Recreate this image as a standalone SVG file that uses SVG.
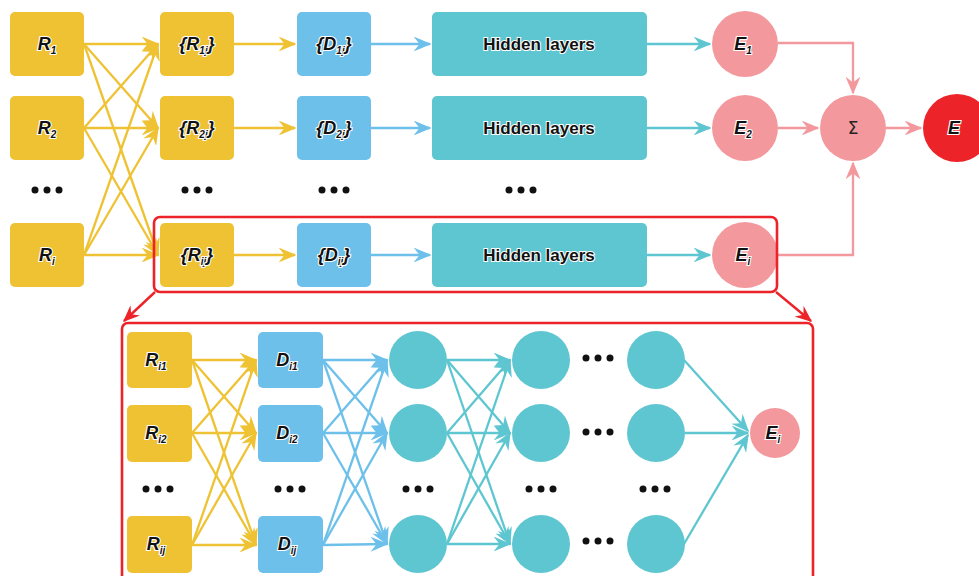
<svg xmlns="http://www.w3.org/2000/svg" width="979" height="576" viewBox="0 0 979 576">
  <style>
    .y { fill: #eec232; }
    .b { fill: #6dc0ea; }
    .t { fill: #5ec6d0; }
    .p { fill: #f3999d; }
    .r { fill: #ec2328; }
    .lab { font-family: "Liberation Sans", Arial, sans-serif; font-weight: bold; font-style: italic; font-size: 18px; fill: #111; stroke: #fff; stroke-width: 2.2px; paint-order: stroke; text-anchor: middle; }
    .lab tspan.s { font-size: 10px; }
    .hid { font-family: "Liberation Sans", Arial, sans-serif; font-weight: bold; font-size: 17px; fill: #111; stroke: #fff; stroke-width: 2px; paint-order: stroke; text-anchor: middle; }
    .sig { font-family: "DejaVu Sans", sans-serif; font-size: 17px; fill: #222; text-anchor: middle; }
    .cy { stroke: #eec232; stroke-width: 2.3; fill: none; marker-end: url(#ay); }
    .cb { stroke: #6dc0ea; stroke-width: 2.3; fill: none; marker-end: url(#ab); }
    .ct { stroke: #5ec6d0; stroke-width: 2.3; fill: none; marker-end: url(#at); }
    .cp { stroke: #f3999d; stroke-width: 2.3; fill: none; marker-end: url(#ap); }
    .cr { stroke: #ec2328; stroke-width: 2.4; fill: none; marker-end: url(#ar); }
    .frame { stroke: #ec2328; stroke-width: 2.6; fill: none; }
    .dot { fill: #111; }
  </style>
  <defs>
    <marker id="ay" viewBox="0 0 12 10" refX="11" refY="5" markerWidth="8" markerHeight="6.5" markerUnits="strokeWidth" orient="auto"><path d="M0,0 L12,5 L0,10 L4,5 z" fill="#eec232"/></marker>
    <marker id="ab" viewBox="0 0 12 10" refX="11" refY="5" markerWidth="8" markerHeight="6.5" markerUnits="strokeWidth" orient="auto"><path d="M0,0 L12,5 L0,10 L4,5 z" fill="#6dc0ea"/></marker>
    <marker id="at" viewBox="0 0 12 10" refX="11" refY="5" markerWidth="8" markerHeight="6.5" markerUnits="strokeWidth" orient="auto"><path d="M0,0 L12,5 L0,10 L4,5 z" fill="#5ec6d0"/></marker>
    <marker id="ap" viewBox="0 0 12 10" refX="11" refY="5" markerWidth="8" markerHeight="6.5" markerUnits="strokeWidth" orient="auto"><path d="M0,0 L12,5 L0,10 L4,5 z" fill="#f3999d"/></marker>
    <marker id="ar" viewBox="0 0 12 10" refX="11" refY="5" markerWidth="7" markerHeight="6" markerUnits="strokeWidth" orient="auto"><path d="M0,0 L12,5 L0,10 L4,5 z" fill="#ec2328"/></marker>
    <g id="dots"><circle cx="-12" cy="0" r="3.5"/><circle cx="0" cy="0" r="3.5"/><circle cx="12" cy="0" r="3.5"/></g>
  </defs>

  <!-- connectors -->
  <g id="connectors">
    <!-- R -> {R} full mesh -->
    <path class="cy" d="M84,44 L158,44"/>
    <path class="cy" d="M84,44 L158,128"/>
    <path class="cy" d="M84,44 L158,255"/>
    <path class="cy" d="M84,128 L158,44"/>
    <path class="cy" d="M84,128 L158,128"/>
    <path class="cy" d="M84,128 L158,255"/>
    <path class="cy" d="M84,255 L158,44"/>
    <path class="cy" d="M84,255 L158,128"/>
    <path class="cy" d="M84,255 L158,255"/>
    <!-- {R} -> {D} -->
    <path class="cy" d="M234,44 L295,44"/>
    <path class="cy" d="M234,128 L295,128"/>
    <path class="cy" d="M234,255 L295,255"/>
    <!-- {D} -> hidden layers -->
    <path class="cb" d="M371,44 L430,44"/>
    <path class="cb" d="M371,128 L430,128"/>
    <path class="cb" d="M371,255 L430,255"/>
    <!-- hidden layers -> E -->
    <path class="ct" d="M647,44 L710,44"/>
    <path class="ct" d="M647,128 L710,128"/>
    <path class="ct" d="M647,255 L710,255"/>
    <!-- E -> sum -> E -->
    <path class="cp" d="M778,43 L853,43 L853,93"/>
    <path class="cp" d="M778,128 L818,128"/>
    <path class="cp" d="M778,255 L853,255 L853,163"/>
    <path class="cp" d="M886,128 L921,128"/>
    <!-- zoom-out arrows -->
    <path class="cr" d="M155,292 L124,321"/>
    <path class="cr" d="M776,292 L811,321"/>

    <!-- lower: R_i -> D_i -->
    <path class="cy" d="M192,360 L256,360"/>
    <path class="cy" d="M192,360 L256,433"/>
    <path class="cy" d="M192,360 L256,545"/>
    <path class="cy" d="M192,433 L256,360"/>
    <path class="cy" d="M192,433 L256,433"/>
    <path class="cy" d="M192,433 L256,545"/>
    <path class="cy" d="M192,545 L256,360"/>
    <path class="cy" d="M192,545 L256,433"/>
    <path class="cy" d="M192,545 L256,545"/>
    <!-- D_i -> first layer -->
    <path class="cb" d="M323,360 L387,360"/>
    <path class="cb" d="M323,360 L387,433"/>
    <path class="cb" d="M323,360 L387,544"/>
    <path class="cb" d="M323,433 L387,360"/>
    <path class="cb" d="M323,433 L387,433"/>
    <path class="cb" d="M323,433 L387,544"/>
    <path class="cb" d="M323,545 L387,360"/>
    <path class="cb" d="M323,545 L387,433"/>
    <path class="cb" d="M323,545 L387,544"/>
    <!-- first layer -> second layer -->
    <path class="ct" d="M447,360 L510,360"/>
    <path class="ct" d="M447,360 L510,433"/>
    <path class="ct" d="M447,360 L510,544"/>
    <path class="ct" d="M447,433 L510,360"/>
    <path class="ct" d="M447,433 L510,433"/>
    <path class="ct" d="M447,433 L510,544"/>
    <path class="ct" d="M447,544 L510,360"/>
    <path class="ct" d="M447,544 L510,433"/>
    <path class="ct" d="M447,544 L510,544"/>
    <!-- last layer -> E_i -->
    <path class="ct" d="M684,360 L748,431"/>
    <path class="ct" d="M685,433 L748,433"/>
    <path class="ct" d="M684,544 L748,435"/>
  </g>

  <!-- top row inputs -->
  <g id="R1"><rect class="y" x="10" y="12" width="74" height="64" rx="5"/><text class="lab" x="47" y="50">R<tspan class="s" dy="4">1</tspan></text></g>
  <g id="R2"><rect class="y" x="10" y="96" width="74" height="64" rx="5"/><text class="lab" x="47" y="134">R<tspan class="s" dy="4">2</tspan></text></g>
  <g id="Ri"><rect class="y" x="10" y="223" width="74" height="64" rx="5"/><text class="lab" x="47" y="261">R<tspan class="s" dy="4">i</tspan></text></g>

  <g id="R1j"><rect class="y" x="160" y="12" width="74" height="64" rx="5"/><text class="lab" x="197" y="50">{R<tspan class="s" dy="4">1j</tspan><tspan dy="-4">}</tspan></text></g>
  <g id="R2j"><rect class="y" x="160" y="96" width="74" height="64" rx="5"/><text class="lab" x="197" y="134">{R<tspan class="s" dy="4">2j</tspan><tspan dy="-4">}</tspan></text></g>
  <g id="Rij"><rect class="y" x="160" y="223" width="74" height="64" rx="5"/><text class="lab" x="197" y="261">{R<tspan class="s" dy="4">ij</tspan><tspan dy="-4">}</tspan></text></g>

  <g id="D1j"><rect class="b" x="297" y="12" width="74" height="64" rx="5"/><text class="lab" x="334" y="50">{D<tspan class="s" dy="4">1j</tspan><tspan dy="-4">}</tspan></text></g>
  <g id="D2j"><rect class="b" x="297" y="96" width="74" height="64" rx="5"/><text class="lab" x="334" y="134">{D<tspan class="s" dy="4">2j</tspan><tspan dy="-4">}</tspan></text></g>
  <g id="Dij"><rect class="b" x="297" y="223" width="74" height="64" rx="5"/><text class="lab" x="334" y="261">{D<tspan class="s" dy="4">ij</tspan><tspan dy="-4">}</tspan></text></g>

  <g id="H1"><rect class="t" x="432" y="12" width="215" height="64" rx="5"/><text class="hid" x="539" y="50">Hidden layers</text></g>
  <g id="H2"><rect class="t" x="432" y="96" width="215" height="64" rx="5"/><text class="hid" x="539" y="134">Hidden layers</text></g>
  <g id="Hi"><rect class="t" x="432" y="223" width="215" height="64" rx="5"/><text class="hid" x="539" y="261">Hidden layers</text></g>

  <g id="E1"><circle class="p" cx="745" cy="44" r="33"/><text class="lab" x="743" y="50">E<tspan class="s" dy="4">1</tspan></text></g>
  <g id="E2"><circle class="p" cx="745" cy="128" r="33"/><text class="lab" x="743" y="134">E<tspan class="s" dy="4">2</tspan></text></g>
  <g id="Ei"><circle class="p" cx="745" cy="255" r="33"/><text class="lab" x="743" y="261">E<tspan class="s" dy="4">i</tspan></text></g>
  <g id="Sum"><circle class="p" cx="853" cy="128" r="33"/><text class="sig" x="853" y="134">Σ</text></g>
  <g id="E"><circle class="r" cx="957" cy="128" r="34"/><text class="lab" x="954" y="134">E</text></g>

  <g id="top-dots" class="dot">
    <use href="#dots" x="47" y="190"/>
    <use href="#dots" x="197" y="190"/>
    <use href="#dots" x="334" y="190"/>
    <use href="#dots" x="521" y="190"/>
  </g>

  <!-- highlighted row and its expanded view -->
  <g id="highlight"><rect class="frame" x="154" y="217" width="623" height="75" rx="6"/></g>
  <g id="detail-frame"><rect class="frame" x="122" y="323" width="691" height="262" rx="6"/></g>

  <g id="Ri1"><rect class="y" x="127" y="332" width="65" height="56" rx="5"/><text class="lab" x="156" y="366">R<tspan class="s" dy="4">i1</tspan></text></g>
  <g id="Ri2"><rect class="y" x="127" y="405" width="65" height="57" rx="5"/><text class="lab" x="156" y="439">R<tspan class="s" dy="4">i2</tspan></text></g>
  <g id="Rij2"><rect class="y" x="127" y="516" width="65" height="57" rx="5"/><text class="lab" x="156" y="550">R<tspan class="s" dy="4">ij</tspan></text></g>

  <g id="Di1"><rect class="b" x="258" y="332" width="65" height="56" rx="5"/><text class="lab" x="287" y="366">D<tspan class="s" dy="4">i1</tspan></text></g>
  <g id="Di2"><rect class="b" x="258" y="405" width="65" height="57" rx="5"/><text class="lab" x="287" y="439">D<tspan class="s" dy="4">i2</tspan></text></g>
  <g id="Dij2"><rect class="b" x="258" y="516" width="65" height="57" rx="5"/><text class="lab" x="287" y="550">D<tspan class="s" dy="4">ij</tspan></text></g>

  <g id="layer1">
    <circle class="t" cx="418" cy="360" r="29"/>
    <circle class="t" cx="418" cy="433" r="29"/>
    <circle class="t" cx="418" cy="544" r="29"/>
  </g>
  <g id="layer2">
    <circle class="t" cx="541" cy="360" r="29"/>
    <circle class="t" cx="541" cy="433" r="29"/>
    <circle class="t" cx="541" cy="544" r="29"/>
  </g>
  <g id="layerN">
    <circle class="t" cx="656" cy="360" r="29"/>
    <circle class="t" cx="656" cy="433" r="29"/>
    <circle class="t" cx="656" cy="544" r="29"/>
  </g>
  <g id="Ei-out"><circle class="p" cx="775" cy="433" r="25"/><text class="lab" x="773" y="439">E<tspan class="s" dy="4">i</tspan></text></g>

  <g id="lower-dots" class="dot">
    <use href="#dots" x="158" y="489"/>
    <use href="#dots" x="290" y="489"/>
    <use href="#dots" x="418" y="489"/>
    <use href="#dots" x="541" y="489"/>
    <use href="#dots" x="655" y="489"/>
    <use href="#dots" x="598" y="358"/>
    <use href="#dots" x="598" y="432"/>
    <use href="#dots" x="598" y="541"/>
  </g>
</svg>
